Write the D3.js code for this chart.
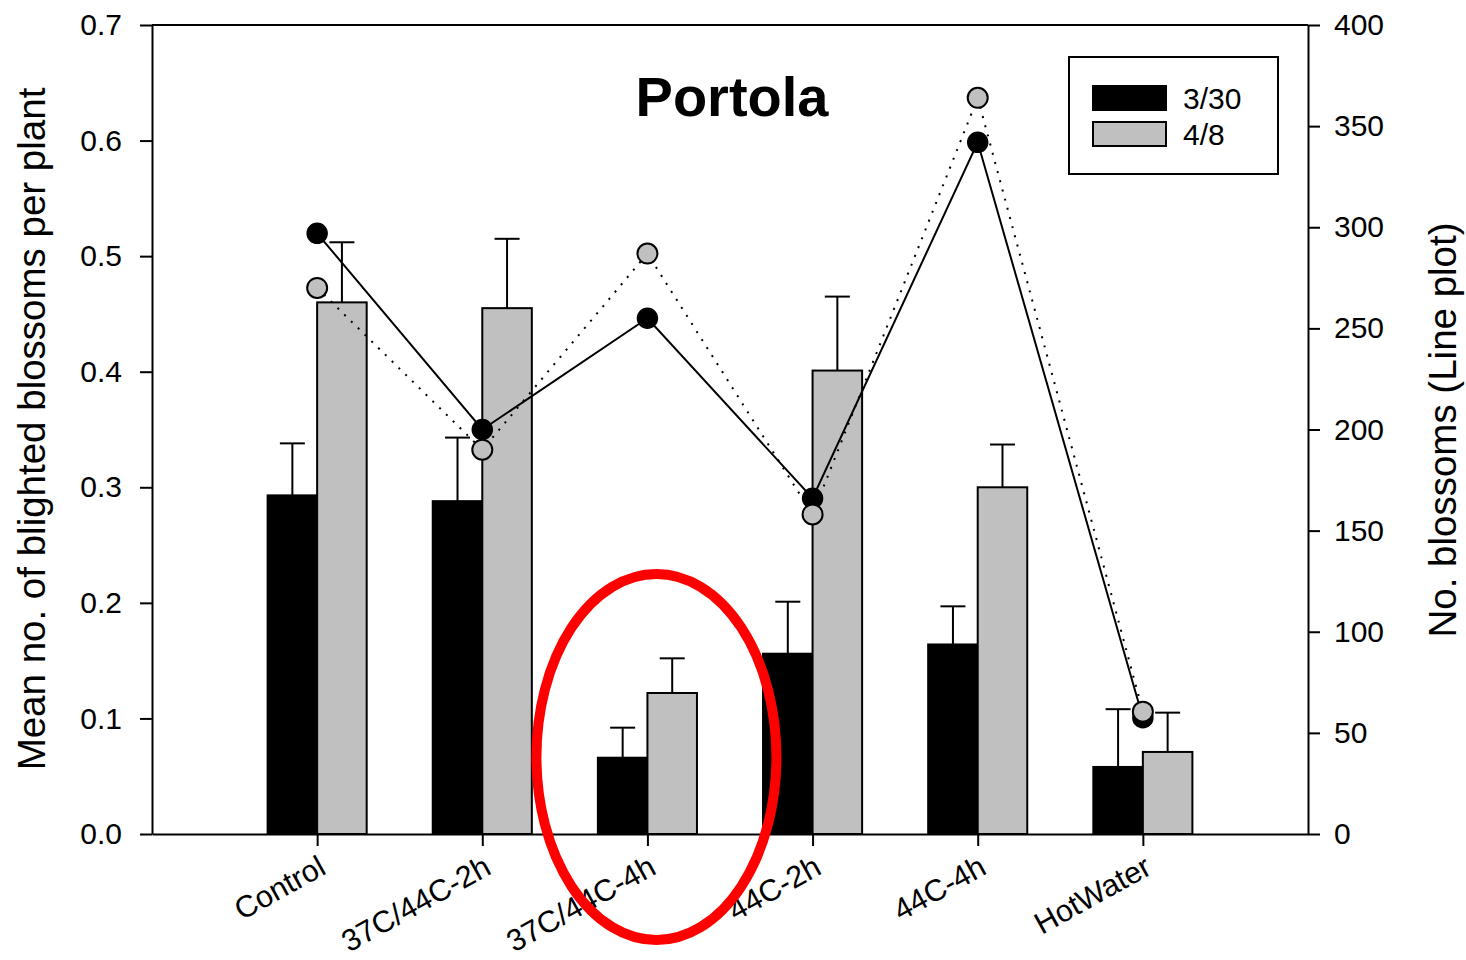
<!DOCTYPE html>
<html>
<head>
<meta charset="utf-8">
<script src="https://cdn.jsdelivr.net/npm/d3@7"></script>
<style>
  html, body { margin: 0; padding: 0; background: #fff; }
  svg { display: block; }
  text { font-family: "Liberation Sans", Arial, sans-serif; fill: #000; }
</style>
</head>
<body>
<script>
// Treatments along the x axis
const categories = ["Control", "37C/44C-2h", "37C/44C-4h", "44C-2h", "44C-4h", "HotWater"];
// Sampling dates (series)
const dates = ["3/30", "4/8"];

// Mean no. of blighted blossoms per plant (bars) and standard errors
const blightedMean330 = [0.293, 0.288, 0.066, 0.156, 0.164, 0.058];
const blightedSE330   = [0.045, 0.055, 0.026, 0.045, 0.033, 0.050];
const blightedMean48  = [0.460, 0.455, 0.122, 0.401, 0.300, 0.071];
const blightedSE48    = [0.052, 0.060, 0.030, 0.064, 0.037, 0.034];

// No. blossoms (line plot, right axis)
const blossoms330 = [297, 200, 255, 166, 342, 57.5];
const blossoms48  = [270, 190, 287, 158, 364, 60.5];

// Tick values
const leftTicks  = [0, 0.1, 0.2, 0.3, 0.4, 0.5, 0.6, 0.7];
const rightTicks = [0, 50, 100, 150, 200, 250, 300, 350, 400];

const W = 1466, H = 960;
const plot = { left: 152, right: 1308, top: 25, bottom: 834 };
const fillColors = ["#000000", "#c0c0c0"];

const svg = d3.select("body").append("svg").attr("width", W).attr("height", H);

const x = d3.scaleLinear().domain([0, categories.length + 1]).range([plot.left, plot.right]);
const yL = d3.scaleLinear().domain([0, 0.7]).range([plot.bottom, plot.top]);
const yR = d3.scaleLinear().domain([0, 400]).range([plot.bottom, plot.top]);
const barW = x(0.3) - x(0);

// Bars: 3/30 left of the category tick, 4/8 right of it
const barSeries = [
  { mean: blightedMean330, se: blightedSE330, offset: -barW, fill: fillColors[0] },
  { mean: blightedMean48,  se: blightedSE48,  offset: 0,     fill: fillColors[1] }
];

const gBars = svg.append("g");
barSeries.forEach(s => {
  const g = gBars.append("g");
  // error bars (upper only)
  g.selectAll("line.err").data(s.mean).join("line")
    .attr("x1", (d, i) => x(i + 1) + s.offset + barW / 2)
    .attr("x2", (d, i) => x(i + 1) + s.offset + barW / 2)
    .attr("y1", d => yL(d))
    .attr("y2", (d, i) => yL(d + s.se[i]))
    .attr("stroke", "#000").attr("stroke-width", 2);
  g.selectAll("line.cap").data(s.mean).join("line")
    .attr("x1", (d, i) => x(i + 1) + s.offset + barW / 2 - 12.5)
    .attr("x2", (d, i) => x(i + 1) + s.offset + barW / 2 + 12.5)
    .attr("y1", (d, i) => yL(d + s.se[i]))
    .attr("y2", (d, i) => yL(d + s.se[i]))
    .attr("stroke", "#000").attr("stroke-width", 2);
  g.selectAll("rect").data(s.mean).join("rect")
    .attr("x", (d, i) => x(i + 1) + s.offset)
    .attr("y", d => yL(d))
    .attr("width", barW)
    .attr("height", d => yL(0) - yL(d))
    .attr("fill", s.fill)
    .attr("stroke", "#000").attr("stroke-width", 2);
});

// Axes
const axisStyle = g => {
  g.selectAll(".domain").attr("stroke", "#000").attr("stroke-width", 2);
  g.selectAll(".tick line").attr("stroke", "#000").attr("stroke-width", 2);
  g.selectAll(".tick text").style("font-size", "30px").attr("fill", "#000");
};

svg.append("g").attr("transform", `translate(${plot.left},0)`)
  .call(d3.axisLeft(yL).tickValues(leftTicks).tickFormat(d3.format(".1f"))
    .tickSize(12).tickSizeOuter(0).tickPadding(18))
  .call(axisStyle);

svg.append("g").attr("transform", `translate(${plot.right},0)`)
  .call(d3.axisRight(yR).tickValues(rightTicks).tickFormat(d3.format("d"))
    .tickSize(12).tickSizeOuter(0).tickPadding(14))
  .call(axisStyle);

const xAxis = svg.append("g").attr("transform", `translate(0,${plot.bottom})`)
  .call(d3.axisBottom(x).tickValues(d3.range(1, categories.length + 1))
    .tickFormat(i => categories[i - 1]).tickSize(12).tickSizeOuter(0))
  .call(axisStyle);
xAxis.selectAll(".tick text")
  .attr("text-anchor", "end")
  .attr("dy", null)
  .attr("y", 0)
  .attr("transform", "translate(10,39) rotate(-29)")
  .style("font-size", "30.5px");

// Top frame line
svg.append("line")
  .attr("x1", x.range()[0]).attr("x2", x.range()[1])
  .attr("y1", yL(0.7)).attr("y2", yL(0.7))
  .attr("stroke", "#000").attr("stroke-width", 2);

// Line plots on the right axis
const line = d3.line().x((d, i) => x(i + 1)).y(d => yR(d));

svg.append("path").datum(blossoms330)
  .attr("d", line).attr("fill", "none")
  .attr("stroke", "#000").attr("stroke-width", 2);
svg.append("g").selectAll("circle").data(blossoms330).join("circle")
  .attr("cx", (d, i) => x(i + 1)).attr("cy", d => yR(d)).attr("r", 10)
  .attr("fill", "#000").attr("stroke", "#000").attr("stroke-width", 1.5);

svg.append("path").datum(blossoms48)
  .attr("d", line).attr("fill", "none")
  .attr("stroke", "#000").attr("stroke-width", 2)
  .attr("stroke-dasharray", "2 7.5");
svg.append("g").selectAll("circle").data(blossoms48).join("circle")
  .attr("cx", (d, i) => x(i + 1)).attr("cy", d => yR(d)).attr("r", 10)
  .attr("fill", fillColors[1]).attr("stroke", "#000").attr("stroke-width", 2);

// Title
svg.append("text").attr("x", 732).attr("y", 116)
  .attr("text-anchor", "middle")
  .style("font-size", "56px").style("font-weight", "bold")
  .text("Portola");

// Axis titles
svg.append("text")
  .attr("transform", "translate(31,429) rotate(-90)")
  .attr("text-anchor", "middle").attr("dominant-baseline", "central")
  .style("font-size", "38.5px")
  .text("Mean no. of blighted blossoms per plant");

svg.append("text")
  .attr("transform", "translate(1442,430) rotate(-90)")
  .attr("text-anchor", "middle").attr("dominant-baseline", "central")
  .style("font-size", "38.5px")
  .text("No. blossoms (Line plot)");

// Legend
const legend = svg.append("g");
legend.append("rect").attr("x", 1069).attr("y", 57).attr("width", 209).attr("height", 117)
  .attr("fill", "#fff").attr("stroke", "#000").attr("stroke-width", 2);
dates.forEach((d, i) => {
  legend.append("rect")
    .attr("x", 1093).attr("y", 86 + i * 36).attr("width", 73).attr("height", 24)
    .attr("fill", fillColors[i]).attr("stroke", "#000").attr("stroke-width", 2);
  legend.append("text")
    .attr("x", 1183).attr("y", 109 + i * 36)
    .style("font-size", "30px")
    .text(d);
});

// Highlight ring around the 37C/44C-4h group
svg.append("ellipse")
  .attr("cx", x(3) + 9).attr("cy", 757).attr("rx", 120).attr("ry", 183)
  .attr("fill", "none").attr("stroke", "#ff0000").attr("stroke-width", 10);
</script>
</body>
</html>
